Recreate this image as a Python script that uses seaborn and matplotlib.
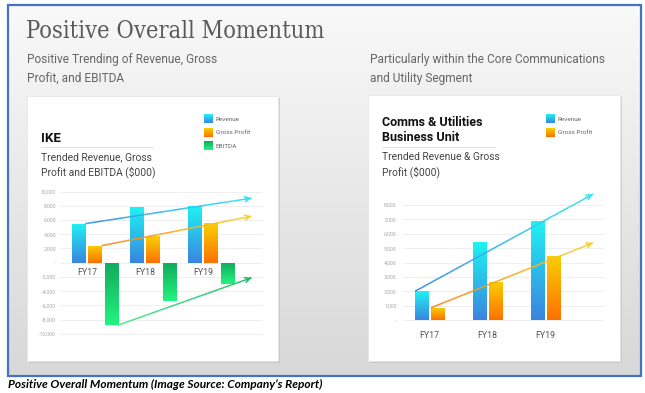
import numpy as np
import pandas as pd
import matplotlib as mpl
import matplotlib.pyplot as plt
import seaborn as sns
from matplotlib.patches import Rectangle
from matplotlib.collections import LineCollection
from matplotlib.colors import LinearSegmentedColormap

# --- data ($000) ---
years = ['FY17', 'FY18', 'FY19']

ike_revenue = [5500, 7800, 8000]
ike_gross_profit = [2400, 3800, 5600]
ike_ebitda = [-8800, -5400, -3000]

cu_revenue = [2000, 5400, 6900]
cu_gross_profit = [850, 2650, 4450]

ike_yticks = [-10000, -8000, -6000, -4000, -2000, 0, 2000, 4000, 6000, 8000, 10000]
cu_yticks = [0, 1000, 2000, 3000, 4000, 5000, 6000, 7000, 8000]

W, H = 645, 393

# bottom colour, top colour of each gradient
GRADIENTS = {
    'Revenue': ('#3a84de', '#1ff3f3'),
    'Gross Profit': ('#fd7000', '#f9d000'),
    'EBITDA': ('#22f47f', '#12aa5c'),
}

sns.set_style('white')
plt.rcParams['font.family'] = ['Roboto', 'DejaVu Sans']
NARROW = ['Roboto', 'DejaVu Sans']


def cmap_for(name):
    lo, hi = GRADIENTS[name]
    return LinearSegmentedColormap.from_list(name, [lo, hi])


def px_axes(fig, left, top, right, bottom):
    '''add an axes given in image pixels (y measured from the top)'''
    return fig.add_axes([left / W, 1 - bottom / H, (right - left) / W, (bottom - top) / H])


def paint_bars(ax, container, cmap):
    grad = np.linspace(0, 1, 256).reshape(-1, 1)
    for bar in container:
        x, y = bar.get_x(), bar.get_y()
        w, h = bar.get_width(), bar.get_height()
        im = ax.imshow(grad, cmap=cmap, origin='lower', aspect='auto',
                       extent=(x, x + w, min(y, y + h), max(y, y + h)), zorder=3)
        im.set_clip_path(bar)
        bar.set_facecolor('none')
        bar.set_edgecolor('none')


def trend_arrow(ax, p0, p1, x_end, c0, c1):
    slope = (p1[1] - p0[1]) / (p1[0] - p0[0])
    end = (x_end, p0[1] + slope * (x_end - p0[0]))
    xs = np.linspace(p0[0], end[0], 80)
    ys = np.linspace(p0[1], end[1], 80)
    pts = np.column_stack([xs, ys])
    segs = np.stack([pts[:-1], pts[1:]], axis=1)
    cm = LinearSegmentedColormap.from_list('trend', [c0, c1])
    lc = LineCollection(segs, colors=cm(np.linspace(0, 1, len(segs))), linewidth=1.1,
                        zorder=4, clip_on=False)
    ax.add_collection(lc, autolim=False)
    ax.annotate('', xy=end, xytext=(xs[-4], ys[-4]), annotation_clip=False,
                arrowprops=dict(arrowstyle='->', color=c1, lw=1.1, mutation_scale=9,
                                shrinkA=0, shrinkB=0))


def style_axes(ax, yticks, ylim, xlim, ypad, xpad):
    ax.set_facecolor('none')
    for s in ax.spines.values():
        s.set_visible(False)
    ax.spines['bottom'].set_position(('data', 0))
    ax.set_yticks(yticks)
    ax.set_yticklabels(['-' if v == 0 else f'{v:,.0f}' for v in yticks])
    ax.yaxis.grid(True, color='#ececec', lw=0.6)
    ax.set_axisbelow(True)
    ax.tick_params(axis='y', length=0, pad=ypad, labelsize=3.8, labelcolor='#a8a8a8')
    ax.tick_params(axis='x', length=0, pad=xpad, labelsize=6.3, labelcolor='#555555')
    ax.set_xlabel('')
    ax.set_ylabel('')
    ax.set_xlim(*xlim)
    ax.set_ylim(*ylim)


fig = plt.figure(figsize=(W / 100, H / 100), dpi=100, facecolor='white')

# --- slide background, border, cards and texts drawn in pixel space ---
bg = fig.add_axes([0, 0, 1, 1])
bg.set_xlim(0, W)
bg.set_ylim(H, 0)
bg.axis('off')

bg_cmap = LinearSegmentedColormap.from_list('bg', ['#f9f9f9', '#e8e8e8', '#d8d8d8'])
bg.imshow(np.linspace(0, 1, 256).reshape(-1, 1), cmap=bg_cmap, aspect='auto',
          extent=(8, 641, 376, 5), zorder=0)
bg.add_patch(Rectangle((8, 5), 633, 371, fill=False, edgecolor='#4472c4', lw=1.6, zorder=5))

for left, top, right, bottom in [(27, 96, 278, 361), (368, 95, 620, 361)]:
    bg.add_patch(Rectangle((left + 1.5, top + 1.5), right - left, bottom - top,
                           facecolor='#bdbdbd', alpha=0.55, edgecolor='none', zorder=1))
    bg.add_patch(Rectangle((left, top), right - left, bottom - top,
                           facecolor='white', edgecolor='#e4e4e4', lw=0.5, zorder=2))

bg.text(26, 31, 'Positive Overall Momentum', fontsize=17.0, color='#5a5a5a',
        family=['DejaVu Serif'], fontstretch='condensed', va='center', ha='left')
bg.text(27, 53.5, 'Positive Trending of Revenue, Gross\nProfit, and EBITDA', fontsize=8.6,
        color='#666666', family=NARROW, va='top', ha='left', linespacing=1.55)
bg.text(370, 53.5, 'Particularly within the Core Communications\nand Utility Segment', fontsize=8.6,
        color='#666666', family=NARROW, va='top', ha='left', linespacing=1.55)

# card headings
bg.text(41, 138, 'IKE', fontsize=9.5, fontweight='bold', color='#111111', family=NARROW,
        va='center', ha='left')
bg.plot([41, 153], [147, 147], color='#e2e2e2', lw=0.7)
bg.text(41, 152, 'Trended Revenue, Gross\nProfit and EBITDA ($000)', fontsize=7.4, color='#444444',
        family=NARROW, va='top', ha='left', linespacing=1.45)

bg.text(382, 130, 'Comms & Utilities\nBusiness Unit', fontsize=9.0, fontweight='bold',
        color='#111111', family=NARROW, va='center', ha='left', linespacing=1.25)
bg.plot([382, 495], [147, 147], color='#e2e2e2', lw=0.7)
bg.text(382, 152, 'Trended Revenue & Gross\nProfit ($000)', fontsize=7.4, color='#444444',
        family=NARROW, va='top', ha='left', linespacing=1.45)

# legends with gradient swatches
sq = np.linspace(0, 1, 64).reshape(-1, 1)
for x0, names in [(204, ['Revenue', 'Gross Profit', 'EBITDA']), (546, ['Revenue', 'Gross Profit'])]:
    for i, name in enumerate(names):
        y0 = 115 + i * 13.5
        bg.imshow(sq, cmap=cmap_for(name), origin='lower', aspect='auto',
                  extent=(x0, x0 + 8.5, y0 + 8.5, y0), zorder=3)
        bg.text(x0 + 11.5, y0 + 4.3, name, fontsize=4.6, color='#666666', family=NARROW,
                va='center', ha='left', zorder=3)

bg.text(8, 384.5, 'Positive Overall Momentum (Image Source: Company\u2019s Report)', fontsize=8.6,
        fontweight='bold', fontstyle='italic', family=['Lato', 'DejaVu Sans'], color='black',
        va='center', ha='left')
bg.set_xlim(0, W)
bg.set_ylim(H, 0)

# --- IKE chart ---
ike = pd.DataFrame({
    'year': years * 3,
    'metric': ['Revenue'] * 3 + ['Gross Profit'] * 3 + ['EBITDA'] * 3,
    'value': ike_revenue + ike_gross_profit + ike_ebitda,
})
ax1 = px_axes(fig, 60.2, 187.4, 263.2, 338.0)
sns.barplot(data=ike, x='year', y='value', hue='metric', order=years,
            hue_order=['Revenue', 'Gross Profit', 'EBITDA'], width=0.84, gap=0.18,
            errorbar=None, legend=False, linewidth=0, ax=ax1)
for cont, name in zip(ax1.containers, ['Revenue', 'Gross Profit', 'EBITDA']):
    paint_bars(ax1, cont, cmap_for(name))

rev, gp, eb = [list(c) for c in ax1.containers]
right = lambda b: b.get_x() + b.get_width()
trend_arrow(ax1, (right(rev[0]), rev[0].get_height()), (right(rev[2]), rev[2].get_height()),
            2.70, '#3a8ae0', '#33e6f0')
trend_arrow(ax1, (right(gp[0]), gp[0].get_height()), (right(gp[2]), gp[2].get_height()),
            2.70, '#f7841e', '#f6d428')
trend_arrow(ax1, (right(eb[0]), eb[0].get_height()), (right(eb[2]), eb[2].get_height()),
            2.70, '#45ea8c', '#22b768')
ax1.set_xticks([i - 0.14 for i in range(len(years))])
ax1.set_xticklabels(years)
style_axes(ax1, ike_yticks, (-10600, 10600), (-0.6, 2.9), ypad=3.0, xpad=4.0)

# --- Comms & Utilities chart ---
cu = pd.DataFrame({
    'year': years * 2,
    'metric': ['Revenue'] * 3 + ['Gross Profit'] * 3,
    'value': cu_revenue + cu_gross_profit,
})
ax2 = px_axes(fig, 402.9, 199.2, 603.5, 325.8)
sns.barplot(data=cu, x='year', y='value', hue='metric', order=years,
            hue_order=['Revenue', 'Gross Profit'], width=0.55, gap=0.17,
            errorbar=None, legend=False, linewidth=0, ax=ax2)
for cont, name in zip(ax2.containers, ['Revenue', 'Gross Profit']):
    paint_bars(ax2, cont, cmap_for(name))

rev, gp = [list(c) for c in ax2.containers]
trend_arrow(ax2, (rev[0].get_x(), rev[0].get_height()), (right(rev[2]), rev[2].get_height()),
            2.82, '#3a8ae0', '#33e6f0')
trend_arrow(ax2, (gp[0].get_x(), gp[0].get_height()), (right(gp[2]), gp[2].get_height()),
            2.82, '#f7841e', '#f6d428')
ax2.set_xticks(range(len(years)))
ax2.set_xticklabels(years)
style_axes(ax2, cu_yticks, (-400, 8400), (-0.46, 3.0), ypad=4.5, xpad=8.0)

fig.savefig('out.png', dpi=100, facecolor='white')
